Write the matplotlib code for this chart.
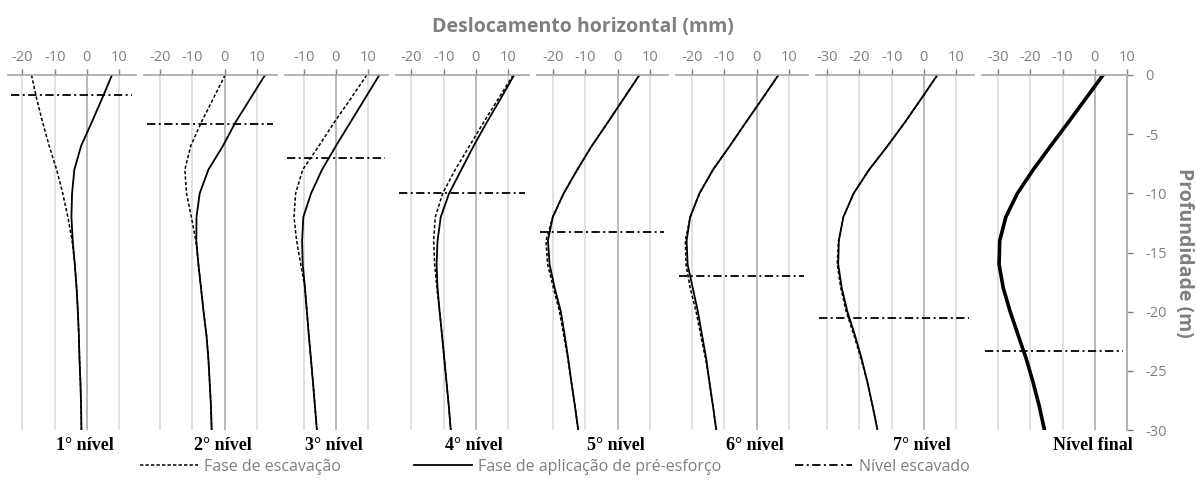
import matplotlib
matplotlib.use('Agg')
import matplotlib.pyplot as plt
from matplotlib.lines import Line2D

# profundidade (m)
depth = [0, -2, -4, -6, -8, -10, -12, -14, -16, -18, -20, -22, -24, -26, -28, -30]

# deslocamentos horizontais (mm) - fase de escavação
esc_1 = [-17.2, -15.6, -13.75, -11.7, -9.4, -7.5, -5.9, -4.6, -3.75, -3.2, -2.8, -2.5, -2.3, -2.0, -1.8, -1.7]
esc_2 = [0.2, -3.5, -7.2, -10.5, -12.3, -11.8, -10.3, -8.9, -8.1, -7.3, -6.5, -5.6, -5.0, -4.6, -4.2, -4.0]
esc_3 = [9.6, 4.6, -0.5, -5.3, -10.3, -12.5, -13.0, -12.2, -10.9, -9.6, -9.0, -8.4, -7.75, -7.1, -6.5, -5.9]
esc_4 = [11.6, 7.0, 2.4, -2.0, -6.4, -10.3, -12.6, -13.1, -12.8, -12.1, -11.25, -10.5, -9.8, -9.1, -8.4, -7.8]
esc_5 = [6.8, 1.9, -3.0, -8.0, -12.5, -16.7, -20.1, -22.2, -21.7, -19.9, -18.0, -16.7, -15.4, -14.3, -13.2, -12.2]
esc_6 = [6.8, 1.8, -3.3, -8.3, -13.5, -17.7, -20.6, -22.1, -21.9, -20.6, -18.75, -17.3, -15.8, -14.6, -13.5, -12.5]
esc_7 = [4.2, -0.8, -5.9, -11.3, -17.0, -21.8, -25.0, -26.5, -26.9, -25.8, -24.1, -21.7, -19.5, -17.5, -15.9, -14.4]
esc_8 = [2.6, -2.8, -8.2, -13.7, -19.1, -24.0, -27.6, -29.5, -29.7, -28.4, -26.25, -23.75, -21.25, -19.1, -17.2, -15.6]

# fase de aplicação de pré-esforço
pre_1 = [7.8, 4.7, 1.5, -1.8, -3.9, -4.6, -4.8, -4.4, -3.75, -3.2, -2.8, -2.5, -2.3, -2.0, -1.8, -1.7]
pre_2 = [12.6, 8.0, 3.4, -0.5, -5.0, -7.7, -8.7, -8.75, -8.1, -7.3, -6.5, -5.6, -5.0, -4.6, -4.2, -4.0]
pre_3 = [13.5, 9.0, 4.5, 0.0, -4.3, -7.7, -10.1, -10.5, -10.3, -9.6, -9.0, -8.4, -7.75, -7.1, -6.5, -5.9]
pre_4 = [11.9, 7.7, 3.4, -0.7, -4.5, -8.3, -10.9, -11.9, -12.2, -11.9, -11.25, -10.5, -9.8, -9.1, -8.4, -7.8]
pre_5 = [6.8, 1.9, -3.0, -8.0, -12.5, -16.7, -20.1, -21.6, -21.1, -19.5, -17.6, -16.4, -15.3, -14.3, -13.2, -12.2]
pre_6 = [6.8, 1.8, -3.3, -8.3, -13.5, -17.7, -20.6, -21.7, -21.4, -19.8, -18.2, -16.9, -15.6, -14.6, -13.5, -12.5]
pre_7 = [4.2, -0.8, -5.9, -11.3, -17.0, -21.8, -25.0, -26.4, -26.6, -25.5, -23.75, -21.4, -19.3, -17.5, -15.9, -14.4]
pre_8 = [2.6, -2.8, -8.2, -13.7, -19.1, -24.0, -27.6, -29.5, -29.7, -28.4, -26.25, -23.75, -21.25, -19.1, -17.2, -15.6]

# profundidade do nível escavado (m)
nivel_escavado = [-1.65, -4.1, -7.0, -10.0, -13.3, -17.0, -20.5, -23.3]

nomes = ['1° nível', '2° nível', '3° nível', '4° nível', '5° nível', '6° nível', '7° nível', 'Nível final']

escavacao = [esc_1, esc_2, esc_3, esc_4, esc_5, esc_6, esc_7, esc_8]
pre_esforco = [pre_1, pre_2, pre_3, pre_4, pre_5, pre_6, pre_7, pre_8]

# limites e marcas de cada painel
xlims = [(-24.5, 15.2), (-25, 16.2), (-15.8, 16.2), (-24.8, 16.5),
         (-25, 15.7), (-25, 16), (-33.5, 15.5), (-35, 10)]
xticks = [[-20, -10, 0, 10], [-20, -10, 0, 10], [-10, 0, 10], [-20, -10, 0, 10],
          [-20, -10, 0, 10], [-20, -10, 0, 10], [-30, -20, -10, 0, 10], [-30, -20, -10, 0, 10]]
lefts_px = [8, 144, 285, 396, 537, 676, 816, 982]

W, H = 1196, 480
PX_UNIT = 3.22
CINZA = '#7f7f7f'
GRID = '#d9d9d9'
EIXO = '#a6a6a6'

plt.rcParams['font.family'] = ['Open Sans', 'DejaVu Sans']
plt.rcParams['axes.unicode_minus'] = False

fig = plt.figure(figsize=(W / 100, H / 100), dpi=100)

top_px, bot_px = 75, 430
dash_esc = (0, (2.2, 1.4))
dash_nivel = (0, (4.6, 1.9, 1.1, 1.9))

for i in range(8):
    x0, x1 = xlims[i]
    w_px = (x1 - x0) * PX_UNIT
    ax = fig.add_axes([lefts_px[i] / W, 1 - bot_px / H, w_px / W, (bot_px - top_px) / H])
    ax.set_xlim(x0, x1)
    ax.set_ylim(-30, 0)
    ax.set_xticks(xticks[i])
    for t in xticks[i]:
        ax.axvline(t, color=EIXO if t == 0 else GRID, lw=1.1, zorder=0)
    ax.xaxis.tick_top()
    ax.tick_params(axis='x', colors=CINZA, labelsize=10.5, length=4, width=1, pad=3)
    for s in ['left', 'right', 'bottom']:
        ax.spines[s].set_visible(False)
    ax.spines['top'].set_color(EIXO)
    ax.spines['top'].set_linewidth(1.2)
    ax.patch.set_visible(False)

    if i < 7:
        ax.set_yticks([])
        ax.plot(escavacao[i], depth, color='black', lw=1.1, linestyle=dash_esc)
        ax.plot(pre_esforco[i], depth, color='black', lw=1.3)
    else:
        ax.plot(pre_esforco[i], depth, color='black', lw=2.6)
        ax.yaxis.tick_right()
        ax.set_yticks([0, -5, -10, -15, -20, -25, -30])
        ax.tick_params(axis='y', colors=CINZA, labelsize=10.5, length=4, width=1, pad=9)
        ax.spines['right'].set_visible(True)
        ax.spines['right'].set_color(EIXO)
        ax.spines['right'].set_linewidth(1.2)
        ax.yaxis.set_label_position('right')
        ax.set_ylabel('Profundidade (m)', color=CINZA, fontsize=14, fontweight='bold',
                      rotation=270, labelpad=20)

    ax.axhline(nivel_escavado[i], xmin=0.02, xmax=0.97, color='black', lw=1.3,
               linestyle=dash_nivel)

    ax.text(-0.5, -30.6, nomes[i], ha='center', va='top', fontsize=13, fontweight='bold',
            family='Liberation Serif')

fig.text(583 / W, 1 - 27 / H, 'Deslocamento horizontal (mm)', ha='center', va='center',
         color=CINZA, fontsize=14, fontweight='bold')

# legenda em três blocos
itens = [
    (Line2D([], [], color='black', lw=1.1, linestyle=dash_esc), 'Fase de escavação', 140),
    (Line2D([], [], color='black', lw=1.3), 'Fase de aplicação de pré-esforço', 414),
    (Line2D([], [], color='black', lw=1.3, linestyle=dash_nivel), 'Nível escavado', 795),
]
for h, txt, xpx in itens:
    fig.legend([h], [txt], loc='center left', bbox_to_anchor=(xpx / W, 1 - 467 / H),
               frameon=False, fontsize=11.5, labelcolor=CINZA, handlelength=3.6,
               handletextpad=0.4, borderpad=0, borderaxespad=0)

fig.savefig('out.png', dpi=100)
